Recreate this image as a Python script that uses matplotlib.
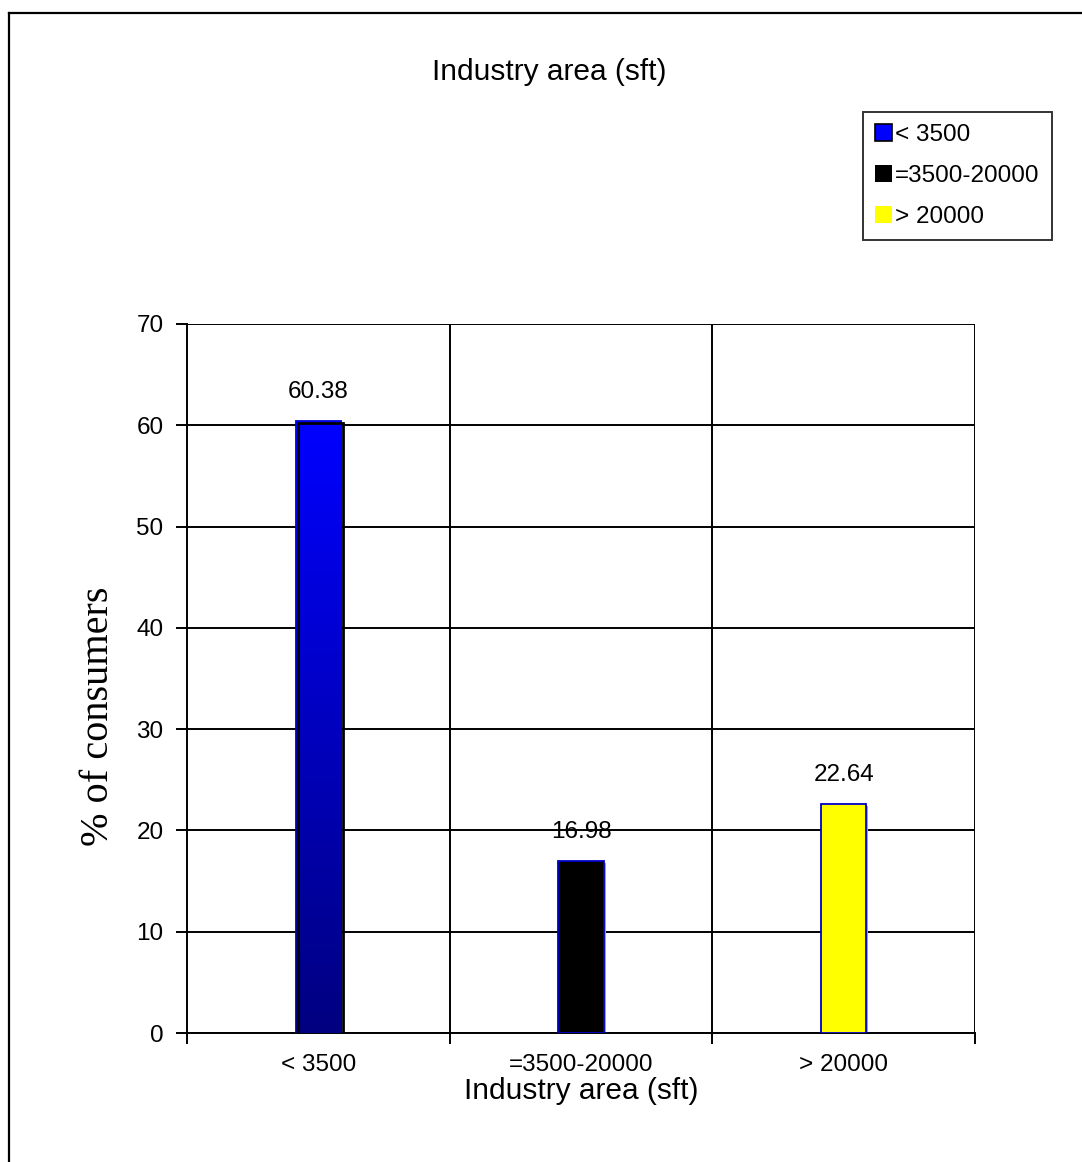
import matplotlib
matplotlib.use("Agg")
import matplotlib.pyplot as plt
import numpy as np
from matplotlib.patches import Rectangle
from matplotlib.lines import Line2D
from matplotlib.colors import LinearSegmentedColormap
import matplotlib.transforms as mtransforms

categories = ["< 3500", "=3500-20000", "> 20000"]
values = [60.38, 16.98, 22.64]
bar_colors = ["#0000ff", "#000000", "#ffff00"]
yticks = [0, 10, 20, 30, 40, 50, 60, 70]
title = "Industry area (sft)"
xlabel = "Industry area (sft)"
ylabel = "% of consumers"

plt.rcParams['font.family'] = ['Liberation Sans', 'DejaVu Sans']

W, H = 1082, 1162
fig = plt.figure(figsize=(W / 100, H / 100), dpi=100)
ax = fig.add_axes([187 / W, 1 - 1033 / H, (975 - 187) / W, (1033 - 324) / H])

x = np.arange(len(categories))
bw = 0.172
bars = ax.bar(x, values, width=bw, color=bar_colors, edgecolor="#0000c8",
              linewidth=1.3, zorder=3)

# shadows / offset outlines
off = mtransforms.offset_copy(ax.transData, fig=fig, x=2, y=-2, units='dots')
for i, b in enumerate(bars):
    if i == 0:
        r = Rectangle((b.get_x(), 0), b.get_width(), b.get_height(), fill=False,
                      edgecolor="black", linewidth=2.0, transform=off, zorder=4)
    else:
        r = Rectangle((b.get_x(), 0), b.get_width(), b.get_height(),
                      facecolor="#a0a0a0", edgecolor="none", transform=off, zorder=2.5)
    ax.add_patch(r)

# gradient on first bar
b0 = bars[0]
cmap = LinearSegmentedColormap.from_list("bl", ["#000080", "#0000ff"])
grad = np.linspace(0, 1, 256).reshape(-1, 1)
im = ax.imshow(grad, cmap=cmap, origin="lower", aspect="auto",
               extent=[b0.get_x(), b0.get_x() + b0.get_width(), 0, b0.get_height()],
               zorder=3.2)
im.set_clip_path(b0)

ax.set_xlim(-0.5, 2.5)
ax.set_ylim(0, 70)
ax.set_yticks(yticks)
ax.set_xticks(x)
ax.set_xticklabels(categories)
ax.set_xticks([-0.5, 0.5, 1.5, 2.5], minor=True)
ax.tick_params(axis='x', which='major', length=0, pad=15, labelsize=17.5)
ax.tick_params(axis='x', which='minor', length=8, width=1.4, direction='out')
ax.tick_params(axis='y', which='major', length=8, width=1.4, pad=9, labelsize=17.5)

for s in ["top", "right"]:
    ax.spines[s].set_visible(False)
for s in ["left", "bottom"]:
    ax.spines[s].set_linewidth(1.4)
ax.set_axisbelow(True)
ax.yaxis.grid(True, color="black", linewidth=1.4, zorder=0)
for xv in [0.5, 1.5, 2.5]:
    ax.axvline(xv, color="black", linewidth=1.4, zorder=1)

for b, v in zip(bars, values):
    ax.annotate(f"{v:.2f}", (b.get_x() + b.get_width() / 2, b.get_height()),
                xytext=(0, 21), textcoords="offset points", ha="center",
                va="center", fontsize=17.5, zorder=5)

ax.set_xlabel(xlabel, fontsize=21.5)
ax.xaxis.set_label_coords(0.5, (1033 - 1091) / 709)
ax.xaxis.label.set_va("center")
ax.set_ylabel(ylabel, fontsize=29, family=["Liberation Serif", "DejaVu Serif"])
ax.yaxis.set_label_coords(-0.1117, 0.447)
ax.yaxis.label.set_va("center")

fig.text(549 / W, 1 - 72 / H, title, ha="center", va="center", fontsize=21.5)

handles = [Rectangle((0, 0), 1, 1, facecolor=c, edgecolor="black" if i == 0 else "none",
                     linewidth=1.2) for i, c in enumerate(bar_colors)]
leg = fig.legend(handles, categories, loc="upper left",
                 bbox_to_anchor=(863 / W, 1 - 112 / H), borderaxespad=0,
                 fontsize=17.5, frameon=True, fancybox=False, edgecolor="black",
                 handlelength=0.68, handleheight=0.68, handletextpad=0.15,
                 labelspacing=0.78, borderpad=0.5)
leg.get_frame().set_linewidth(1.4)

# outer border (top and left visible)
fig.add_artist(Line2D([9 / W, 9 / W], [0, 1 - 13 / H], color="black", linewidth=1.6))
fig.add_artist(Line2D([9 / W, 1], [1 - 13 / H, 1 - 13 / H], color="black", linewidth=1.6))

fig.savefig("out.png", dpi=100)
